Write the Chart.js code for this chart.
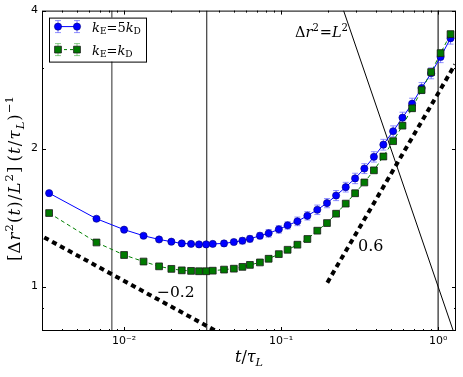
<!DOCTYPE html>
<html>
<head>
<meta charset="utf-8">
<script src="https://cdn.jsdelivr.net/npm/chart.js@4.4.0/dist/chart.umd.min.js"></script>
<style>
html, body { margin: 0; padding: 0; background: #fff; }
</style>
</head>
<body>
<canvas id="msd_chart" width="463" height="377"></canvas>
<script>
// sampling times t/tau_L (shared by both series)
const times = [0.00333, 0.00667, 0.0100, 0.0133, 0.0167, 0.0200, 0.0233, 0.0267, 0.0300, 0.0333,
    0.0367, 0.0433, 0.0500, 0.0567, 0.0633, 0.0733, 0.0833, 0.0967, 0.110, 0.127,
    0.147, 0.170, 0.196, 0.224, 0.258, 0.296, 0.339, 0.390, 0.448, 0.517,
    0.593, 0.683, 0.785, 0.903, 1.037, 1.20];

// kE = 5 kD (blue circles)
const blue_values = [1.599, 1.406, 1.331, 1.291, 1.267, 1.253, 1.242, 1.239, 1.236, 1.236,
    1.239, 1.242, 1.251, 1.259, 1.271, 1.291, 1.307, 1.333, 1.360, 1.388,
    1.427, 1.471, 1.521, 1.580, 1.648, 1.722, 1.809, 1.919, 2.040, 2.182,
    2.336, 2.506, 2.711, 2.920, 3.170, 3.480];
const blue_errors = [0.01, 0.01, 0.01, 0.01, 0.01, 0.01, 0.01, 0.01, 0.01, 0.01,
    0.01, 0.015, 0.015, 0.02, 0.02, 0.02, 0.025, 0.025, 0.025, 0.03,
    0.03, 0.035, 0.035, 0.04, 0.04, 0.045, 0.045, 0.05, 0.055, 0.06,
    0.065, 0.07, 0.075, 0.08, 0.09, 0.10];

// kE = kD (green squares)
const green_values = [1.447, 1.248, 1.172, 1.134, 1.107, 1.093, 1.085, 1.082, 1.080, 1.080,
    1.083, 1.089, 1.094, 1.104, 1.115, 1.129, 1.150, 1.177, 1.203, 1.234,
    1.270, 1.324, 1.376, 1.442, 1.517, 1.598, 1.687, 1.793, 1.922, 2.076,
    2.244, 2.449, 2.684, 2.938, 3.231, 3.554];
const green_errors = [0.005, 0.005, 0.005, 0.005, 0.005, 0.005, 0.005, 0.005, 0.005, 0.005,
    0.005, 0.006, 0.006, 0.007, 0.007, 0.008, 0.008, 0.01, 0.01, 0.012,
    0.012, 0.014, 0.015, 0.016, 0.018, 0.02, 0.02, 0.022, 0.025, 0.028,
    0.03, 0.035, 0.04, 0.045, 0.05, 0.055];

// axes
const x_ticks = [0.01, 0.1, 1];
const x_tick_labels = ['10\u207b\u00b2', '10\u207b\u00b9', '10\u2070'];
const y_ticks = [1, 2, 4];
const y_tick_labels = ['1', '2', '4'];
const y_minor_ticks = [0.9, 3];

// reference lines
const vertical_lines = [0.00835, 0.0336, 1.0];
const slope_low_line = [[0.0031, 1.28], [0.0385, 0.80]];    // ~ t^-0.2
const slope_high_line = [[0.197, 1.02], [1.28, 3.05]];      // ~ t^0.6
const ballistic_line = [[0.25, 4.0], [1.25, 0.8]];          // dr^2 = L^2

const MATH_FONT = '"DejaVu Serif"';

function toPoints(pairs) {
    return pairs.map(p => ({ x: p[0], y: p[1] }));
}

// draw a run of math-ish text pieces (italic / sub / sup)
function mathFont(p, size) {
    const s = p.s ? size * 0.7 : size;
    return (p.i ? 'italic ' : '') + s.toFixed(1) + 'px ' + MATH_FONT;
}
function drawMath(ctx, parts, x, y, size, align, spacing) {
    let w = 0;
    parts.forEach(p => {
        ctx.font = mathFont(p, size);
        p.w = ctx.measureText(p.t).width + (p.pad || 0) + (spacing || 0);
        w += p.w;
    });
    let cx = align === 'center' ? x - w / 2 : x;
    ctx.textAlign = 'left';
    ctx.textBaseline = 'alphabetic';
    parts.forEach(p => {
        ctx.font = mathFont(p, size);
        let dy = 0;
        if (p.s === 'sup') dy = -size * 0.42;
        if (p.s === 'sub') dy = size * 0.22;
        ctx.fillText(p.t, cx, y + dy);
        cx += p.w;
    });
}

const errorBarsPlugin = {
    id: 'errorBars',
    beforeDatasetDraw(chart, args) {
        const ds = chart.data.datasets[args.index];
        if (!ds.errors) return;
        const ctx = chart.ctx;
        const xs = chart.scales.x, ys = chart.scales.y;
        ctx.save();
        ctx.strokeStyle = ds.errorColor;
        ctx.lineWidth = 1;
        ds.data.forEach((p, i) => {
            const px = xs.getPixelForValue(p.x);
            const top = ys.getPixelForValue(p.y + ds.errors[i]);
            const bot = ys.getPixelForValue(p.y - ds.errors[i]);
            ctx.beginPath();
            ctx.moveTo(px, top); ctx.lineTo(px, bot);
            ctx.moveTo(px - 3, top); ctx.lineTo(px + 3, top);
            ctx.moveTo(px - 3, bot); ctx.lineTo(px + 3, bot);
            ctx.stroke();
        });
        ctx.restore();
    }
};

// frame + inward ticks on all four sides, like matplotlib
const frameTicksPlugin = {
    id: 'frameTicks',
    afterDatasetsDraw(chart) {
        const ctx = chart.ctx, a = chart.chartArea;
        const xs = chart.scales.x, ys = chart.scales.y;
        ctx.save();
        ctx.strokeStyle = '#000';
        ctx.lineWidth = 1;
        ctx.strokeRect(a.left + 0.5, a.top + 0.5, a.right - a.left - 1, a.bottom - a.top - 1);
        ctx.beginPath();
        const xtick = (v, len) => {
            const px = Math.round(xs.getPixelForValue(v)) + 0.5;
            ctx.moveTo(px, a.bottom); ctx.lineTo(px, a.bottom - len);
            ctx.moveTo(px, a.top); ctx.lineTo(px, a.top + len);
        };
        const ytick = (v, len) => {
            const py = Math.round(ys.getPixelForValue(v)) + 0.5;
            ctx.moveTo(a.left, py); ctx.lineTo(a.left + len, py);
            ctx.moveTo(a.right, py); ctx.lineTo(a.right - len, py);
        };
        x_ticks.forEach(v => xtick(v, 4));
        [0.001, 0.01, 0.1, 1].forEach(d => {
            for (let m = 2; m < 10; m++) {
                const v = m * d;
                if (v > xs.min && v < xs.max) xtick(v, 2);
            }
        });
        y_ticks.forEach(v => ytick(v, 4));
        y_minor_ticks.forEach(v => ytick(v, 2));
        ctx.stroke();
        ctx.restore();
    }
};

const textPlugin = {
    id: 'texts',
    afterDraw(chart) {
        const ctx = chart.ctx, a = chart.chartArea;
        ctx.save();
        ctx.fillStyle = '#000';

        // axis titles
        drawMath(ctx, [{ t: 't', i: 1 }, { t: '/' }, { t: '\u03c4', i: 1 }, { t: 'L', i: 1, s: 'sub' }],
            (a.left + a.right) / 2, 362, 16, 'center');
        ctx.save();
        ctx.translate(20, 178);
        ctx.rotate(-Math.PI / 2);
        drawMath(ctx, [
            { t: '[' }, { t: '\u0394' }, { t: 'r', i: 1 }, { t: '2', s: 'sup' }, { t: '(' }, { t: 't', i: 1 },
            { t: ')' }, { t: '/' }, { t: 'L', i: 1 }, { t: '2', s: 'sup' }, { t: ']', pad: 4 }, { t: '(' },
            { t: 't', i: 1 }, { t: '/' }, { t: '\u03c4', i: 1 }, { t: 'L', i: 1, s: 'sub' }, { t: ')' },
            { t: '\u22121', s: 'sup' }
        ], 0, 0, 16.5, 'center', 1.1);
        ctx.restore();

        // annotations
        drawMath(ctx, [{ t: '\u0394' }, { t: 'r', i: 1 }, { t: '2', s: 'sup', pad: 1 }, { t: '=' },
            { t: 'L', i: 1 }, { t: '2', s: 'sup' }], 295, 37, 14.5, 'left');
        drawMath(ctx, [{ t: '\u22120.2' }], 157, 297, 15.5, 'left');
        drawMath(ctx, [{ t: '0.6' }], 358, 251, 16, 'left');

        // legend box
        const lx = a.left + 7, ly = a.top + 7, lw = 97, lh = 44;
        ctx.fillStyle = '#fff';
        ctx.fillRect(lx, ly, lw, lh);
        ctx.strokeStyle = '#000';
        ctx.lineWidth = 1;
        ctx.strokeRect(lx + 0.5, ly + 0.5, lw, lh);
        const rows = [
            { y: ly + 9, ds: chart.data.datasets[0], dash: [], text: [{ t: 'k', i: 1 }, { t: 'E', s: 'sub' }, { t: '=' }, { t: '5' }, { t: 'k', i: 1 }, { t: 'D', s: 'sub' }] },
            { y: ly + 32, ds: chart.data.datasets[1], dash: [3, 3], text: [{ t: 'k', i: 1 }, { t: 'E', s: 'sub' }, { t: '=' }, { t: 'k', i: 1 }, { t: 'D', s: 'sub' }] }
        ];
        rows.forEach(r => {
            const x1 = lx + 9, x2 = lx + 28;
            ctx.save();
            ctx.strokeStyle = r.ds.borderColor;
            ctx.lineWidth = 1;
            ctx.setLineDash(r.dash);
            ctx.beginPath(); ctx.moveTo(x1, r.y); ctx.lineTo(x2, r.y); ctx.stroke();
            ctx.setLineDash([]);
            ctx.strokeStyle = r.ds.errorColor;
            [x1, x2].forEach(px => {
                ctx.beginPath();
                ctx.moveTo(px, r.y - 6); ctx.lineTo(px, r.y + 6);
                ctx.moveTo(px - 3, r.y - 6); ctx.lineTo(px + 3, r.y - 6);
                ctx.moveTo(px - 3, r.y + 6); ctx.lineTo(px + 3, r.y + 6);
                ctx.stroke();
            });
            ctx.fillStyle = r.ds.pointBackgroundColor;
            ctx.strokeStyle = r.ds.pointBorderColor;
            ctx.lineWidth = r.ds.pointBorderWidth;
            [x1, x2].forEach(px => {
                Chart.helpers.drawPoint(ctx, {
                    pointStyle: r.ds.pointStyle, radius: r.ds.pointRadius, borderWidth: r.ds.pointBorderWidth
                }, px, r.y);
            });
            ctx.restore();
            ctx.fillStyle = '#000';
            drawMath(ctx, r.text, lx + 43, r.y + 5, 13, 'left');
        });
        ctx.restore();
    }
};

const datasets = [
    {
        label: 'kE=5kD',
        data: times.map((t, i) => ({ x: t, y: blue_values[i] })),
        showLine: true,
        borderColor: '#0000ff',
        borderWidth: 1,
        pointStyle: 'circle',
        pointRadius: 3.6,
        pointBackgroundColor: '#0000ff',
        pointBorderColor: '#00007a',
        pointBorderWidth: 0.6,
        errors: blue_errors,
        errorColor: 'rgba(70,70,255,0.6)',
        order: 2
    },
    {
        label: 'kE=kD',
        data: times.map((t, i) => ({ x: t, y: green_values[i] })),
        showLine: true,
        borderColor: '#008000',
        borderWidth: 1,
        borderDash: [4, 3],
        pointStyle: 'rect',
        pointRadius: 4.8,
        pointBackgroundColor: '#007a00',
        pointBorderColor: '#1a1a1a',
        pointBorderWidth: 0.8,
        errors: green_errors,
        errorColor: 'rgba(60,170,60,0.6)',
        order: 1
    },
    {
        data: toPoints(slope_low_line), showLine: true, pointRadius: 0,
        borderColor: '#000', borderWidth: 4, borderDash: [5, 4], clip: 0, order: 5
    },
    {
        data: toPoints(slope_high_line), showLine: true, pointRadius: 0,
        borderColor: '#000', borderWidth: 4, borderDash: [5, 4], clip: 0, order: 5
    },
    {
        data: toPoints(ballistic_line), showLine: true, pointRadius: 0,
        borderColor: '#000', borderWidth: 1, clip: 0, order: 6
    }
];
const vline_styles = [['#7a7a7a', 1.6], ['#2a2a2a', 1.1], ['#111', 1.1]];
vertical_lines.forEach((t, i) => {
    datasets.push({
        data: [{ x: t, y: 0.8 }, { x: t, y: 4 }], showLine: true, pointRadius: 0,
        borderColor: vline_styles[i][0], borderWidth: vline_styles[i][1], order: 7
    });
});

const canvas = document.getElementById('msd_chart');
new Chart(canvas, {
    type: 'scatter',
    data: { datasets: datasets },
    options: {
        responsive: false,
        animation: false,
        devicePixelRatio: 1,
        layout: { padding: { left: 0, right: 7, top: 10, bottom: 0 } },
        plugins: { legend: { display: false }, tooltip: { enabled: false } },
        elements: { line: { tension: 0 } },
        scales: {
            x: {
                type: 'logarithmic',
                min: 0.003,
                max: 1.3,
                grid: { display: false, drawTicks: false },
                border: { display: false },
                ticks: {
                    color: '#000',
                    font: { family: 'DejaVu Sans', size: 11 },
                    padding: 4,
                    maxRotation: 0,
                    autoSkip: false,
                    callback: (v, i) => x_tick_labels[i]
                },
                afterBuildTicks: s => { s.ticks = x_ticks.map(v => ({ value: v })); },
                afterFit: s => { s.height = 46; }
            },
            y: {
                type: 'logarithmic',
                min: 0.8,
                max: 4,
                grid: { display: false, drawTicks: false },
                border: { display: false },
                ticks: {
                    color: '#000',
                    font: { family: 'DejaVu Sans', size: 11 },
                    padding: 4,
                    autoSkip: false,
                    callback: (v, i) => y_tick_labels[i]
                },
                afterBuildTicks: s => { s.ticks = y_ticks.map(v => ({ value: v })); },
                afterFit: s => { s.width = 42; }
            }
        }
    },
    plugins: [errorBarsPlugin, frameTicksPlugin, textPlugin]
});
</script>
</body>
</html>
